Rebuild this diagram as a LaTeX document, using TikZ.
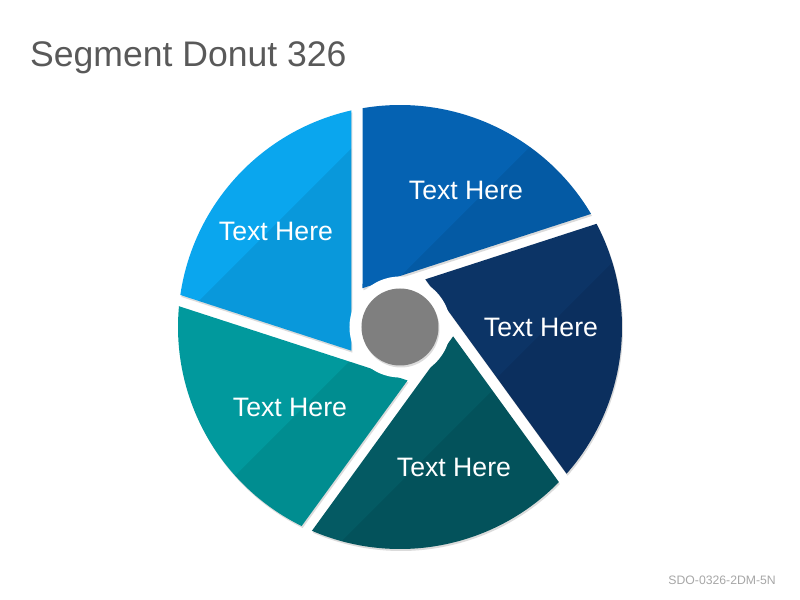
\documentclass[tikz,border=0pt]{standalone}
\usepackage{fontspec}
\setmainfont{Liberation Sans}
\definecolor{segblue}{HTML}{0562B2}
\definecolor{segnavy}{HTML}{0C3466}
\definecolor{segdeep}{HTML}{045A63}
\definecolor{segteal}{HTML}{01999D}
\definecolor{segsky}{HTML}{0AA6EE}
\definecolor{hubgray}{HTML}{7F7F7F}
\definecolor{titlegray}{HTML}{595959}
\definecolor{codegray}{HTML}{A6A6A6}
% one blade of the shutter, the others are rotated copies
\newcommand{\segpath}{(-37.5,38.81) -- (99.7:222) arc[start angle=99.7, end angle=30.63, radius=222] -- cycle}

\begin{document}
\begin{tikzpicture}[x=0.9pt, y=0.9pt,
    seglabel/.style={text=white, font=\fontsize{24}{28}\selectfont},
    darkside/.style={black, opacity=0.08},
    segshadow/.style={black, opacity=0.14}]
  \useasboundingbox (-400,-273) rectangle (400,327);
  % shadows first so the blades sit on top of them
  \fill [segshadow, shift={(1,-2)}] \segpath;
  \fill [segshadow, shift={(1,-2)}, rotate=-72] \segpath;
  \fill [segshadow, shift={(1,-2)}, rotate=-144] \segpath;
  \fill [segshadow, shift={(1,-2)}, rotate=144] \segpath;
  \fill [segshadow, shift={(1,-2)}, rotate=72] \segpath;
  % blades, each with a darker lower half
  \begin{scope}
    \clip \segpath;
    \fill [segblue] (-250,-250) rectangle (250,250);
    \fill [darkside, shift={(66,116)}, rotate=45] (-300,-300) rectangle (300,0);
  \end{scope}
  \begin{scope}
    \clip [rotate=-72] \segpath;
    \fill [segnavy] (-250,-250) rectangle (250,250);
    \fill [darkside, shift={(141,-7)}, rotate=45] (-300,-300) rectangle (300,0);
  \end{scope}
  \begin{scope}
    \clip [rotate=-144] \segpath;
    \fill [segdeep] (-250,-250) rectangle (250,250);
    \fill [darkside, shift={(60,-96)}, rotate=45] (-300,-300) rectangle (300,0);
  \end{scope}
  \begin{scope}
    \clip [rotate=144] \segpath;
    \fill [segteal] (-250,-250) rectangle (250,250);
    \fill [darkside, shift={(-110,-94)}, rotate=45] (-300,-300) rectangle (300,0);
  \end{scope}
  \begin{scope}
    \clip [rotate=72] \segpath;
    \fill [segsky] (-250,-250) rectangle (250,250);
    \fill [darkside, shift={(-124,103)}, rotate=45] (-300,-300) rectangle (300,0);
  \end{scope}
  % hub
  \fill [white] (0,0) circle (50.5);
  \fill [segshadow] (1,-2) circle (38.5);
  \fill [hubgray] (0,0) circle (38.5);
  % blade labels
  \node [seglabel] (blue) at (66,137) {Text Here};
  \node [seglabel] (navy) at (141,0) {Text Here};
  \node [seglabel] (deep) at (54,-140.5) {Text Here};
  \node [seglabel] (teal) at (-110,-80.5) {Text Here};
  \node [seglabel] (sky) at (-124,96) {Text Here};
  % title and slide code
  \node [anchor=base west, inner sep=0, text=titlegray, font=\fontsize{32}{38}\selectfont] (title) at (-370,260.3) {Segment Donut 326};
  \node [anchor=base east, inner sep=0, text=codegray, font=\fontsize{11}{13}\selectfont] (code) at (376,-257) {SDO-0326-2DM-5N};
\end{tikzpicture}
\end{document}
